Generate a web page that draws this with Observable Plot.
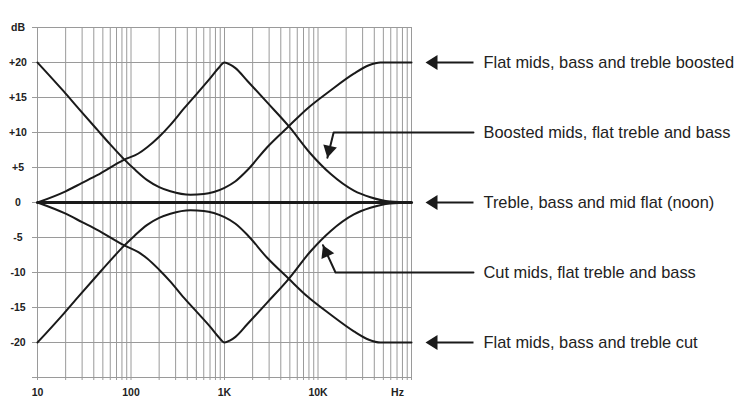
<!DOCTYPE html>
<html>
<head>
<meta charset="utf-8">
<script src="https://cdn.jsdelivr.net/npm/d3@7"></script>
<script src="https://cdn.jsdelivr.net/npm/@observablehq/plot@0.6"></script>
<style>
  html, body { margin: 0; padding: 0; background: #fff; }
</style>
</head>
<body>
<div id="chart"></div>
<script>
// ---- Data ----
const flatHz = [10, 100000];
const flatDb = [0, 0];

const btBoostHz = [10, 19, 28, 43.5, 60, 84, 110, 149, 200, 264, 433, 600, 769, 1000, 1300, 1750, 2860, 4870, 7660, 13600, 24200, 35000, 46500, 100000];
const btBoostDb = [20, 15.9, 13.3, 10.4, 8.3, 6.2, 4.7, 3.2, 2.2, 1.6, 1.1, 1.2, 1.5, 2.1, 3.0, 4.6, 7.9, 10.9, 13.4, 16, 18.4, 19.6, 20, 20];

const btCutHz = [10, 19, 28, 43.5, 60, 84, 110, 149, 200, 264, 433, 600, 769, 1000, 1300, 1750, 2860, 4870, 7660, 13600, 24200, 35000, 46500, 100000];
const btCutDb = [-20, -15.9, -13.3, -10.4, -8.3, -6.2, -4.7, -3.2, -2.2, -1.6, -1.1, -1.2, -1.5, -2.1, -3.0, -4.6, -7.9, -10.9, -13.4, -16, -18.4, -19.6, -20, -20];

const midBoostHz = [10, 20, 30, 43.5, 84, 120, 149, 200, 264, 367, 511, 708, 850, 1000, 1150, 1310, 1750, 2860, 4870, 8300, 13600, 24200, 36400, 59000, 100000];
const midBoostDb = [0, 1.6, 2.8, 3.9, 6.1, 7.0, 7.9, 9.4, 11.1, 13.4, 15.6, 17.8, 19.1, 20, 19.7, 19.2, 17.4, 14.3, 10.9, 7, 4.1, 1.7, 0.76, 0.14, 0];

const midCutHz = [10, 20, 30, 43.5, 84, 120, 149, 200, 264, 367, 511, 708, 850, 1000, 1150, 1310, 1750, 2860, 4870, 8300, 13600, 24200, 36400, 59000, 100000];
const midCutDb = [0, -1.6, -2.8, -3.9, -6.1, -7.1, -8.0, -9.6, -11.3, -13.6, -15.7, -17.8, -19.1, -20, -19.7, -19.2, -17.4, -14.3, -10.9, -7, -4.1, -1.7, -0.76, -0.14, 0];

// tick labels
const yTicks = [-25, -20, -15, -10, -5, 0, 5, 10, 15, 20, 25];
const yTickLabels = ["", "-20", "-15", "-10", "-5", "0", "+5", "+10", "+15", "+20", "dB"];
const xDecades = [10, 100, 1000, 10000, 100000];
const xDecadeLabels = ["10", "100", "1K", "10K", "Hz"];

// annotations
const noteLabels = [
  "Flat mids, bass and treble boosted",
  "Boosted mids, flat treble and bass",
  "Treble, bass and mid flat (noon)",
  "Cut mids, flat treble and bass",
  "Flat mids, bass and treble cut"
];
const noteDb = [20, 10, 0, -10, -20];
const arrowNoteDb = [20, 0, -20];
const leaderBoostHz = [460000, 14700, 12600];
const leaderBoostDb = [10, 10, 6.4];
const leaderCutHz = [460000, 15400, 11300];
const leaderCutDb = [-10, -10, -6.1];

// ---- Build tables ----
const toRows = (hz, db) => hz.map((h, i) => ({hz: h, db: db[i]}));
const curves = [
  {name: "btBoost", rows: toRows(btBoostHz, btBoostDb)},
  {name: "btCut", rows: toRows(btCutHz, btCutDb)},
  {name: "midBoost", rows: toRows(midBoostHz, midBoostDb)},
  {name: "midCut", rows: toRows(midCutHz, midCutDb)}
].flatMap(s => s.rows.map(r => ({...r, name: s.name})));
const flatRows = toRows(flatHz, flatDb);

const gridX = xDecades.slice(0, -1).flatMap(d => [1,2,3,4,5,6,7,8,9].map(m => d * m)).concat([xDecades[xDecades.length - 1]]);

// custom symbols
const fullArrow = {
  draw(ctx) {
    ctx.moveTo(0, 0);
    ctx.lineTo(12, -7.5);
    ctx.lineTo(12, -1);
    ctx.lineTo(48, -1);
    ctx.lineTo(48, 1);
    ctx.lineTo(12, 1);
    ctx.lineTo(12, 7.5);
    ctx.closePath();
  }
};
const headArrow = {
  draw(ctx) {
    ctx.moveTo(0, 0);
    ctx.lineTo(12, -7);
    ctx.lineTo(12, 7);
    ctx.closePath();
  }
};

const ink = "#1a1a1a";
const gridColor = "#9a9a9a";
const fontFamily = "'Liberation Sans', Arial, Helvetica, sans-serif";

const leaderTips = [
  {hz: leaderBoostHz[2], db: leaderBoostDb[2]},
  {hz: leaderCutHz[2], db: leaderCutDb[2]}
];
const tipRotate = [-77, 66];

const chart = Plot.plot({
  width: 751,
  height: 404,
  marginLeft: 37,
  marginRight: 340,
  marginTop: 27,
  marginBottom: 27,
  style: {fontFamily, background: "#fff"},
  x: {type: "log", domain: [10, 100000]},
  y: {domain: [-25, 25]},
  marks: [
    Plot.gridX(gridX, {stroke: gridColor, strokeOpacity: 1, strokeWidth: 1}),
    Plot.gridY(yTicks, {stroke: gridColor, strokeOpacity: 1, strokeWidth: 1}),
    Plot.axisY(yTicks, {
      tickSize: 5, tickPadding: 14.5, textAnchor: "middle",
      tickFormat: d => yTickLabels[yTicks.indexOf(d)],
      stroke: gridColor, fill: "#222", fontSize: 10.5, fontWeight: "bold", label: null
    }),
    Plot.axisX(gridX, {
      tickSize: 3, tickPadding: 8,
      tickFormat: d => { const i = xDecades.indexOf(d); return i >= 0 && i < xDecades.length - 1 ? xDecadeLabels[i] : ""; },
      stroke: gridColor, fill: "#222", fontSize: 10.5, fontWeight: "bold", label: null
    }),
    Plot.text([xDecadeLabels[4]], {x: xDecades[4], y: -25, dx: -14, dy: 15, fill: "#222", fontSize: 10.5, fontWeight: "bold"}),
    Plot.line(curves, {x: "hz", y: "db", z: "name", stroke: ink, strokeWidth: 2, curve: "monotone-x"}),
    Plot.line(flatRows, {x: "hz", y: "db", stroke: ink, strokeWidth: 3}),
    // annotations
    Plot.text(noteLabels, {x: xDecades[4], y: (d, i) => noteDb[i], dx: 72, textAnchor: "start", fontSize: 16.4, fill: "#222"}),
    Plot.dot(arrowNoteDb, {x: xDecades[4], y: d => d, dx: 14, symbol: fullArrow, fill: ink, stroke: "none", r: 5}),
    Plot.line(toRows(leaderBoostHz, leaderBoostDb), {x: "hz", y: "db", stroke: ink, strokeWidth: 2}),
    Plot.line(toRows(leaderCutHz, leaderCutDb), {x: "hz", y: "db", stroke: ink, strokeWidth: 2}),
    Plot.dot(leaderTips, {x: "hz", y: "db", symbol: headArrow, fill: ink, stroke: "none", r: 5, rotate: (d, i) => tipRotate[i]})
  ]
});

document.getElementById("chart").appendChild(chart);
</script>
</body>
</html>
